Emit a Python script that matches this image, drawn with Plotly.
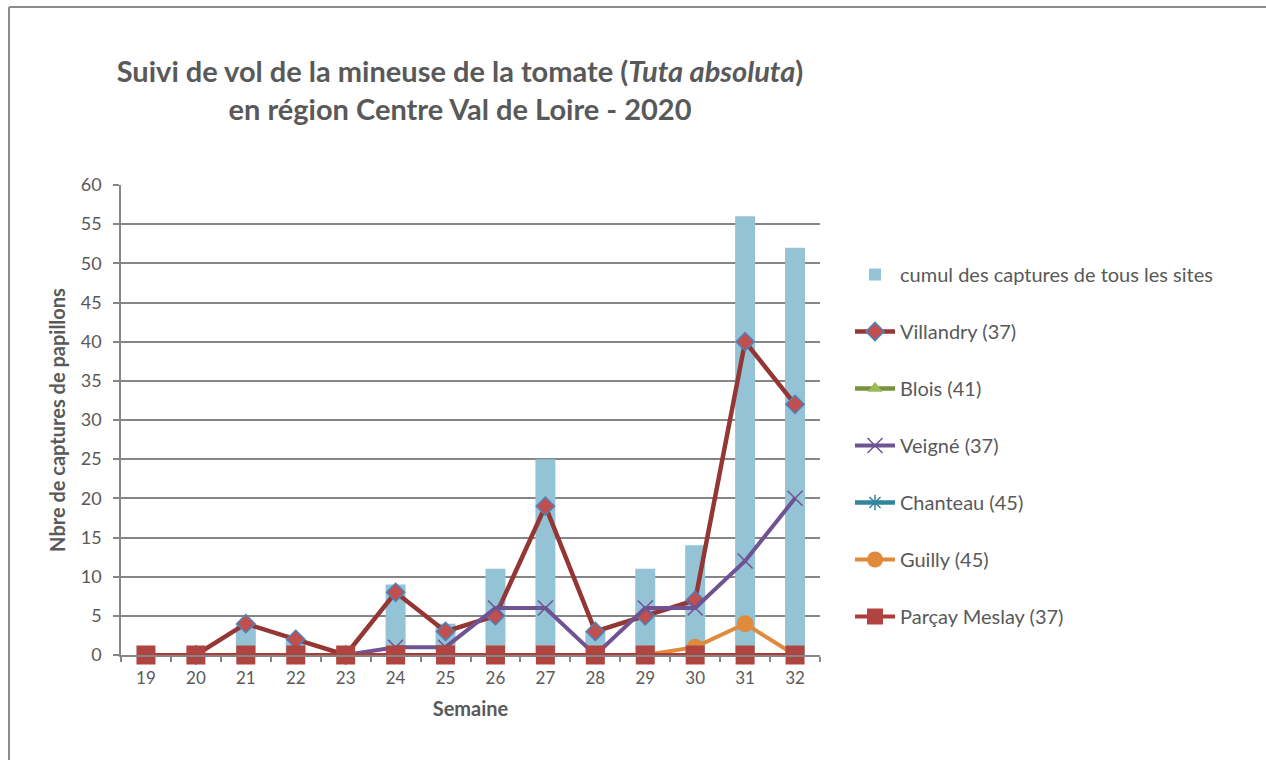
import plotly.graph_objects as go

weeks = ["19", "20", "21", "22", "23", "24", "25", "26", "27", "28", "29", "30", "31", "32"]
cumul = [0, 0, 4, 2, 0, 9, 4, 11, 25, 3, 11, 14, 56, 52]
villandry = [None, 0, 4, 2, 0, 8, 3, 5, 19, 3, 5, 7, 40, 32]
blois = [None] * 14
veigne = [None, None, None, None, 0, 1, 1, 6, 6, 0, 6, 6, 12, 20]
chanteau = [None] * 14
guilly = [None, None, None, None, None, None, None, None, None, None, 0, 1, 4, 0]
parcay = [0, 0, 0, 0, 0, 0, 0, 0, 0, 0, 0, 0, 0, 0]

FONT = "Lato, 'Open Sans', sans-serif"
GRAY = "#595959"
GRID = "#868686"

fig = go.Figure()
fig.add_trace(go.Bar(x=weeks, y=cumul, name="cumul des captures de tous les sites",
                     marker=dict(color="#93C3D5", line=dict(width=0)), legendgroup="a"))
fig.add_trace(go.Scatter(x=weeks, y=villandry, name="Villandry (37)", mode="lines+markers",
                         line=dict(color="#943634", width=4.5),
                         marker=dict(symbol="diamond", size=14, color="#C0504D",
                                     line=dict(color="#4F81BD", width=1.5)),
                         cliponaxis=False, legendgroup="b"))
fig.add_trace(go.Scatter(x=weeks, y=blois, name="Blois (41)", mode="lines+markers",
                         line=dict(color="#77933C", width=4.5),
                         marker=dict(symbol="triangle-up", size=13, color="#9BBB59"),
                         legendgroup="c"))
fig.add_trace(go.Scatter(x=weeks, y=veigne, name="Veigné (37)", mode="lines+markers",
                         line=dict(color="#6F5392", width=4),
                         marker=dict(symbol="x-thin-open", size=15,
                                     line=dict(color="#6F5392", width=1.5)),
                         cliponaxis=False, legendgroup="d"))
fig.add_trace(go.Scatter(x=weeks, y=chanteau, name="Chanteau (45)", mode="lines+markers",
                         line=dict(color="#31859C", width=4.5),
                         marker=dict(symbol="asterisk-open", size=13,
                                     line=dict(color="#4BACC6", width=1.5)),
                         legendgroup="e"))
fig.add_trace(go.Scatter(x=weeks, y=guilly, name="Guilly (45)", mode="lines+markers",
                         line=dict(color="#E08A3C", width=4),
                         marker=dict(symbol="circle", size=17, color="#E08A3C"),
                         cliponaxis=False, legendgroup="f"))
fig.add_trace(go.Scatter(x=weeks, y=parcay, name="Parçay Meslay (37)", mode="lines+markers",
                         line=dict(color="#B03A36", width=4),
                         marker=dict(symbol="square", size=19, color="#B04440"),
                         cliponaxis=False, legendgroup="g"))

L, R, T, B = 121, 820, 185, 655
W, H = R - L, B - T

def px(x):
    return (x - L) / W

def py(y):
    return (B - y) / H

fig.update_layout(
    width=1266, height=760,
    margin=dict(l=L, r=1266 - R, t=T, b=760 - B, pad=0),
    paper_bgcolor="white", plot_bgcolor="white",
    font=dict(family=FONT, color=GRAY, size=17),
    bargap=0.6,
    showlegend=True,
    title=dict(text="<b>Suivi de vol de la mineuse de la tomate (<i>Tuta absoluta</i>)<br>en région Centre Val de Loire - 2020</b>",
               x=px(460), xref="paper", xanchor="center",
               y=1 - 82 / 760, yref="container", yanchor="middle",
               font=dict(size=29, color=GRAY, family=FONT)),
    legend=dict(x=px(850), xanchor="left", y=py(255), yanchor="top",
                font=dict(size=20, color=GRAY, family=FONT),
                tracegroupgap=28, traceorder="grouped", bgcolor="rgba(0,0,0,0)",
                itemwidth=40),
    xaxis=dict(type="category", range=[-0.5, len(weeks) - 0.5],
               showline=True, linecolor=GRID, linewidth=1.5,
               ticks="outside", tickson="boundaries", ticklen=5, tickcolor=GRID,
               tickwidth=1.5, showgrid=False, tickfont=dict(size=17, color=GRAY),
               ticklabelstandoff=7,
               title=dict(text="<b>Semaine</b>", font=dict(size=20, color=GRAY), standoff=15)),
    yaxis=dict(range=[0, 60], dtick=5, showline=True, linecolor=GRID, linewidth=1.5,
               ticks="outside", ticklen=6, tickcolor=GRID, tickwidth=1.5,
               showgrid=True, gridcolor=GRID, gridwidth=1.5, zeroline=False,
               tickfont=dict(size=18, color=GRAY), ticklabelstandoff=8,
               title=dict(text="<b>Nbre de captures de papillons</b>",
                          font=dict(size=20, color=GRAY), standoff=10)),
    shapes=[
        dict(type="line", xref="paper", yref="paper", x0=px(9), x1=px(1270),
             y0=py(7), y1=py(7), line=dict(color="#8C8C8C", width=2)),
        dict(type="line", xref="paper", yref="paper", x0=px(9), x1=px(9),
             y0=py(7), y1=py(765), line=dict(color="#8C8C8C", width=2)),
    ],
)

fig.write_html("out.html", config={"displayModeBar": False},
               post_script="document.body.style.margin='0px';document.body.style.overflow='hidden';")
